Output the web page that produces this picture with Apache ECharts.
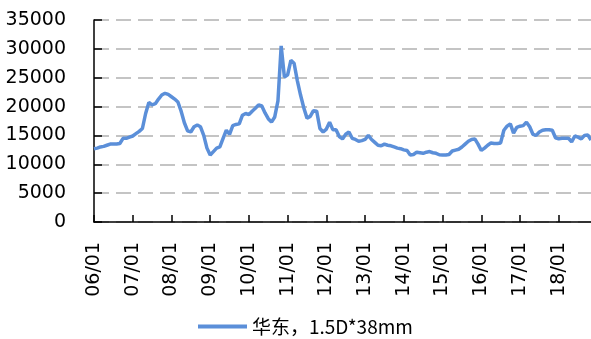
<!DOCTYPE html>
<html>
<head>
<meta charset="utf-8">
<script src="https://cdn.jsdelivr.net/npm/echarts@6/dist/echarts.min.js"></script>
<style>
  html, body { margin: 0; padding: 0; background: #fff; }
  #chart { width: 591px; height: 339px; }
</style>
</head>
<body>
<div id="chart"></div>
<script>
// monthly categories 06/01 .. 18/11
const years = ["06", "07", "08", "09", "10", "11", "12", "13", "14", "15", "16", "17", "18"];
const months = ["01", "02", "03", "04", "05", "06", "07", "08", "09", "10", "11", "12"];
const seriesName = "华东，1.5D*38mm";

const values = [
  // 2006
  12700, 12800, 13000, 13100, 13300, 13500, 13500, 13500, 13600, 14500, 14500, 14700,
  // 2007
  14900, 15300, 15700, 16200, 18800, 20700, 20300, 20500, 21300, 22000, 22300, 22100,
  // 2008
  21700, 21300, 20800, 19200, 17200, 15800, 15600, 16500, 16800, 16500, 15000, 12800,
  // 2009
  11600, 12200, 12800, 13000, 14500, 15900, 15200, 16700, 16900, 17000, 18500, 18800,
  // 2010
  18600, 19200, 19700, 20300, 20100, 18900, 17900, 17300, 18200, 21000, 30500, 25100,
  // 2011
  25500, 28000, 27500, 24500, 22000, 19800, 18000, 18300, 19300, 19200, 16200, 15600,
  // 2012
  16100, 17300, 16000, 16000, 14800, 14400, 15200, 15600, 14500, 14300, 14000, 14100,
  // 2013
  14300, 15000, 14300, 13800, 13300, 13200, 13500, 13300, 13200, 13000, 12800, 12700,
  // 2014
  12500, 12400, 11600, 11700, 12100, 12000, 11900, 12100, 12200, 12000, 11900, 11650,
  // 2015
  11600, 11600, 11700, 12300, 12450, 12600, 13000, 13500, 14000, 14300, 14400, 13500,
  // 2016
  12400, 12800, 13300, 13700, 13600, 13600, 13700, 15900, 16600, 17000, 15400, 16400,
  // 2017
  16600, 16700, 17300, 16500, 15200, 15000, 15600, 15900, 16000, 16000, 15900, 14600,
  // 2018
  14400, 14500, 14500, 14500, 13900, 14900, 14700, 14400, 15000, 15100, 14200
];

const categories = [];
years.forEach(y => months.forEach(m => categories.push(y + "/" + m)));
categories.length = values.length;

const chart = echarts.init(document.getElementById("chart"));
const option = {
  animation: false,
  textStyle: { fontFamily: "DejaVu Sans" },
  grid: { left: 94, right: 0, top: 20, bottom: 117 },
  legend: {
    left: 193,
    top: 312,
    icon: "rect",
    itemWidth: 49,
    itemHeight: 4,
    itemGap: 8,
    textStyle: { fontSize: 19, color: "#000", fontFamily: "Noto Sans CJK SC" },
    data: [seriesName]
  },
  xAxis: {
    type: "category",
    data: categories,
    boundaryGap: false,
    axisLine: { lineStyle: { color: "#000", width: 1.5 } },
    axisTick: { inside: true, length: 7, interval: 11, lineStyle: { color: "#000", width: 1.5 } },
    axisLabel: {
      interval: 11,
      rotate: 90,
      margin: 20,
      fontSize: 19,
      color: "#000",
      formatter: v => v.slice(0, 3) + "01"
    },
    splitLine: { show: false }
  },
  yAxis: {
    type: "value",
    min: 0,
    max: 35000,
    interval: 5000,
    axisLine: { show: true, lineStyle: { color: "#000", width: 1.5 } },
    axisTick: { show: true, inside: true, length: 8, lineStyle: { color: "#000", width: 1.5 } },
    axisLabel: { fontSize: 19, color: "#000", margin: 28, formatter: v => String(v) },
    splitLine: { lineStyle: { type: [15, 7], color: "#c4c4c4", width: 2 } }
  },
  series: [
    {
      name: seriesName,
      type: "line",
      data: values,
      showSymbol: false,
      symbol: "none",
      lineStyle: { color: "#5B8FD9", width: 3.5 },
      itemStyle: { color: "#5B8FD9" }
    }
  ]
};
chart.setOption(option);
</script>
</body>
</html>
